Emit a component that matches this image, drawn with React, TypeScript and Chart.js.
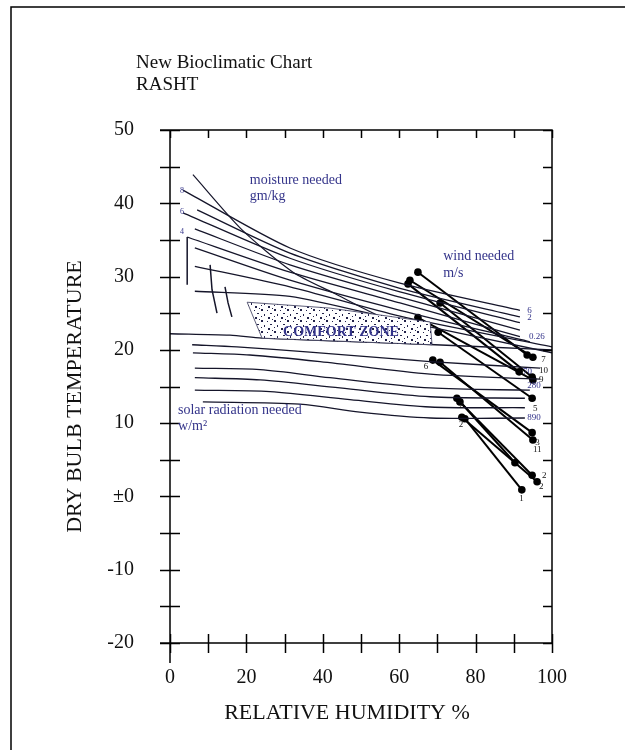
import { useEffect, useRef } from 'react';
import { Chart, registerables } from 'chart.js';
Chart.register(...registerables);

const SERIF = "'Liberation Serif', 'Times New Roman', serif";
const BLUE = '#34348a';
const LINE = '#15152a';

const X_MIN = 0, X_MAX = 100, Y_MIN = -20, Y_MAX = 50;
const xMinorStep = 10, yMinorStep = 5;
const xTickValues = [0, 20, 40, 60, 80, 100];
const yTickValues = [-20, -10, 0, 10, 20, 30, 40, 50];
const yTickLabels = ['-20', '-10', '±0', '10', '20', '30', '40', '50'];

// monthly climate lines: (min RH, max T) -> (max RH, min T)
const months = ['Jan', 'Feb', 'Mar', 'Apr', 'May', 'Jun', 'Jul', 'Aug', 'Sep', 'Oct', 'Nov', 'Dec'];
const rhMin = [77.2, 76.4, 75.1, 68.8, 64.9, 62.3, 62.8, 64.9, 70.7, 70.2, 70.7, 75.9];
const tMax = [10.6, 10.8, 13.4, 18.6, 24.4, 29.0, 29.5, 30.6, 26.4, 22.4, 18.3, 12.9];
const rhMax = [92.1, 96.1, 90.3, 94.8, 95.0, 91.4, 95.0, 93.5, 94.8, 94.8, 95.0, 94.8];
const tMin = [0.9, 2.0, 4.6, 8.7, 15.9, 17.0, 19.0, 19.3, 16.3, 13.4, 7.7, 2.9];

type P = [number, number];
// moisture boundary (steep line)
const moistureBoundary: P[] = [[6.0, 43.9], [18.8, 36.4], [32.2, 30.6], [42.7, 27.8], [55.8, 24.4], [64.1, 23.4]];
// fan of lines above comfort zone
const fanLine1: P[] = [[3.4, 41.8], [31.4, 33.9], [60.2, 29.1], [91.6, 25.4]];
const fanLine2: P[] = [[7.1, 39.1], [31.4, 33.2], [60.2, 28.4], [91.6, 24.5]];
const fanLine3: P[] = [[3.4, 38.7], [31.4, 32.5], [60.2, 27.9], [91.6, 23.7]];
const fanLine4: P[] = [[6.5, 36.5], [31.4, 31.6], [60.2, 27.2], [91.6, 22.7]];
const fanLine5: P[] = [[4.5, 35.4], [31.4, 30.6], [60.2, 26.4], [91.6, 21.8]];
const fanLine6: P[] = [[6.5, 33.9], [31.4, 29.5], [60.2, 25.4], [94.2, 21.1]];
const fanLine7: P[] = [[6.5, 31.4], [31.4, 28.6], [60.2, 24.6], [100, 20.4]];
const fanLine8: P[] = [[6.5, 28.0], [31.4, 27.3], [60.2, 24.0], [100, 19.6]];
// short vertical / curved strokes at the left
const strokeA: P[] = [[4.5, 35.4], [4.5, 28.9]];
const strokeB: P[] = [[10.5, 31.6], [11.0, 28.2], [12.3, 25.0]];
const strokeC: P[] = [[14.4, 28.6], [15.2, 26.4], [16.2, 24.5]];
// solar radiation lines
const solarLine0: P[] = [[0, 22.2], [15.7, 22.0], [24.1, 21.6], [60.2, 20.9], [100, 20.0]];
const solarLine1: P[] = [[5.8, 20.7], [17.5, 20.4], [36.6, 19.7], [68.1, 18.4], [96.9, 17.5]];
const solarLine2: P[] = [[6.0, 19.6], [20.9, 19.3], [39.3, 18.4], [68.1, 16.7], [96.9, 16.0]];
const solarLine3: P[] = [[6.5, 17.5], [23.6, 17.3], [41.9, 16.2], [68.1, 14.8], [94.2, 14.5]];
const solarLine4: P[] = [[6.5, 16.2], [23.6, 15.9], [44.5, 14.8], [68.1, 13.6], [92.9, 13.4]];
const solarLine5: P[] = [[6.5, 14.5], [26.2, 14.3], [47.1, 13.2], [68.1, 12.2], [92.9, 12.1]];
const solarLine6: P[] = [[8.6, 12.9], [34.0, 12.6], [49.7, 11.5], [68.1, 10.7], [92.9, 10.7]];
// comfort zone polygon
const comfortZone: P[] = [[20.2, 26.5], [41.9, 25.7], [68.1, 23.8], [68.6, 20.7], [24.1, 21.6], [20.2, 26.5]];

// annotation texts: [text, rh, temp, size]
const blueNotes: [string, number, number, number][] = [
  ['moisture needed', 20.9, 43.2, 14], ['gm/kg', 20.9, 40.9, 14],
  ['wind needed', 71.5, 32.7, 14], ['m/s', 71.5, 30.4, 14],
  ['solar radiation needed', 2.1, 11.8, 14], ['w/m²', 2.1, 9.6, 14],
  ['8', 2.6, 41.7, 8], ['6', 2.6, 38.8, 8], ['4', 2.6, 36.1, 8],
  ['6', 93.5, 25.3, 9], ['2', 93.5, 24.4, 9], ['0.26', 94.0, 21.8, 9],
  ['70', 92.4, 17.0, 9], ['280', 93.5, 15.1, 9], ['890', 93.5, 10.7, 9],
];
const zoneLabel: [string, number, number] = ['COMFORT ZONE', 29.6, 22.4];
const blackNotes: [string, number, number][] = [
  ['7', 97.2, 18.6], ['10', 96.6, 17.1], ['9', 96.6, 16.0], ['5', 95.0, 12.0],
  ['3', 95.6, 7.3], ['11', 95.0, 6.4], ['2', 97.4, 2.9], ['2', 96.6, 1.3], ['1', 91.4, -0.3],
  ['6', 66.4, 17.7], ['2', 75.6, 12.4], ['2', 75.6, 9.8],
];

const toXY = (pts: P[]) => pts.map(([x, y]) => ({ x, y }));

export default function App() {
  const ref = useRef<HTMLCanvasElement>(null);
  useEffect(() => {
    document.body.style.margin = '0';
    const canvas = ref.current!;
    const pc = document.createElement('canvas');
    pc.width = 13; pc.height = 11;
    const g = pc.getContext('2d')!;
    g.fillStyle = '#ffffff'; g.fillRect(0, 0, 13, 11);
    g.fillStyle = '#22224a';
    const dots = [[1, 1, 2, 2], [7, 2, 1, 1], [10, 5, 2, 1], [4, 6, 1, 2], [8, 9, 2, 2], [1, 8, 1, 1], [12, 0, 1, 1]];
    for (const [dx, dy, w, h] of dots) g.fillRect(dx, dy, w, h);
    const pattern = canvas.getContext('2d')!.createPattern(pc, 'repeat');

    const plain = (label: string, pts: P[], width = 1.3, color = LINE) => ({
      label, data: toXY(pts), borderColor: color, borderWidth: width,
      pointRadius: 0, fill: false, tension: 0.25,
    });
    const datasets: any[] = [
      {
        label: 'comfort zone', data: toXY(comfortZone), borderColor: '#333355', borderWidth: 0.8,
        backgroundColor: pattern, fill: 'shape', pointRadius: 0, tension: 0,
      },
      plain('moisture boundary', moistureBoundary, 1.2),
      ...[fanLine1, fanLine2, fanLine3, fanLine4, fanLine5, fanLine6, fanLine7, fanLine8].map((p, i) => plain('fan ' + (i + 1), p)),
      ...[strokeA, strokeB, strokeC].map((p, i) => ({ ...plain('stroke ' + i, p, 1.5), tension: 0 })),
      ...[solarLine0, solarLine1, solarLine2, solarLine3, solarLine4, solarLine5, solarLine6].map((p, i) => ({ ...plain('solar ' + i, p), tension: 0.3 })),
      ...months.map((m, i) => ({
        label: m,
        data: [{ x: rhMin[i], y: tMax[i] }, { x: rhMax[i], y: tMin[i] }],
        borderColor: '#000', borderWidth: 2, pointRadius: 3.8,
        pointBackgroundColor: '#000', pointBorderColor: '#000', pointBorderWidth: 0,
        fill: false, tension: 0,
      })),
    ];

    const frame = {
      id: 'frame',
      afterDraw(c: any) {
        const { ctx, chartArea: a, scales: { x, y } } = c;
        ctx.save();
        ctx.strokeStyle = '#000'; ctx.lineWidth = 1.5;
        ctx.beginPath();
        ctx.moveTo(11, 750); ctx.lineTo(11, 7); ctx.lineTo(625, 7);
        ctx.moveTo(a.left, a.top); ctx.lineTo(a.left, a.bottom + 20);
        ctx.moveTo(a.left - 10, a.bottom); ctx.lineTo(a.right, a.bottom);
        ctx.lineTo(a.right, a.top); ctx.lineTo(a.left - 10, a.top);
        for (let v = Y_MIN; v <= Y_MAX; v += yMinorStep) {
          const py = Math.round(y.getPixelForValue(v)) + 0.5;
          ctx.moveTo(a.left - 10, py); ctx.lineTo(a.left + 10, py);
          ctx.moveTo(a.right - 9, py); ctx.lineTo(a.right, py);
        }
        for (let v = X_MIN; v <= X_MAX; v += xMinorStep) {
          const px = Math.round(x.getPixelForValue(v)) + 0.5;
          ctx.moveTo(px, a.bottom - 9); ctx.lineTo(px, a.bottom + 10);
          ctx.moveTo(px, a.top); ctx.lineTo(px, a.top + 8);
        }
        ctx.stroke();

        ctx.fillStyle = '#111';
        ctx.textBaseline = 'middle';
        ctx.textAlign = 'left';
        ctx.font = `19px ${SERIF}`;
        ctx.fillText('New Bioclimatic Chart', a.left - 34, 63);
        ctx.fillText('RASHT', a.left - 34, 85);
        ctx.font = `22px ${SERIF}`;
        ctx.textAlign = 'center';
        ctx.fillText('RELATIVE HUMIDITY %', a.left + 177, a.bottom + 70);
        ctx.save();
        ctx.translate(75, (a.top + a.bottom) / 2 + 10);
        ctx.rotate(-Math.PI / 2);
        ctx.fillText('DRY BULB TEMPERATURE', 0, 0);
        ctx.restore();

        ctx.textAlign = 'left';
        ctx.fillStyle = BLUE;
        for (const [t, rx, ty, size] of blueNotes) {
          ctx.font = `${size}px ${SERIF}`;
          ctx.fillText(t, x.getPixelForValue(rx), y.getPixelForValue(ty));
        }
        ctx.font = `bold 14px ${SERIF}`;
        ctx.fillText(zoneLabel[0], x.getPixelForValue(zoneLabel[1]), y.getPixelForValue(zoneLabel[2]));
        ctx.fillStyle = '#111';
        ctx.font = `9px ${SERIF}`;
        for (const [t, rx, ty] of blackNotes) {
          ctx.fillText(t, x.getPixelForValue(rx), y.getPixelForValue(ty));
        }
        ctx.restore();
      },
    };

    const chart = new Chart(canvas, {
      type: 'line',
      data: { datasets },
      options: {
        animation: false,
        responsive: false,
        devicePixelRatio: 1,
        layout: { padding: { left: 0, right: 73, top: 130, bottom: 7 } },
        plugins: { legend: { display: false }, tooltip: { enabled: false }, title: { display: false } },
        scales: {
          x: {
            type: 'linear', min: X_MIN, max: X_MAX,
            grid: { display: false, drawTicks: false }, border: { display: false },
            afterBuildTicks: (s: any) => { s.ticks = xTickValues.map((v) => ({ value: v })); },
            ticks: { font: { family: SERIF, size: 20 }, color: '#111', padding: 23, maxRotation: 0, autoSkip: false },
            afterFit: (s: any) => { s.height = 100; },
          },
          y: {
            type: 'linear', min: Y_MIN, max: Y_MAX,
            grid: { display: false, drawTicks: false }, border: { display: false },
            afterBuildTicks: (s: any) => { s.ticks = yTickValues.map((v) => ({ value: v })); },
            ticks: {
              font: { family: SERIF, size: 20 }, color: '#111', padding: 36, autoSkip: false,
              callback: (v: any) => yTickLabels[yTickValues.indexOf(Number(v))] ?? '',
            },
            afterFit: (s: any) => { s.width = 170; },
          },
        },
      } as any,
      plugins: [frame],
    });
    return () => chart.destroy();
  }, []);
  return <canvas ref={ref} width={625} height={750} style={{ display: 'block' }} />;
}
